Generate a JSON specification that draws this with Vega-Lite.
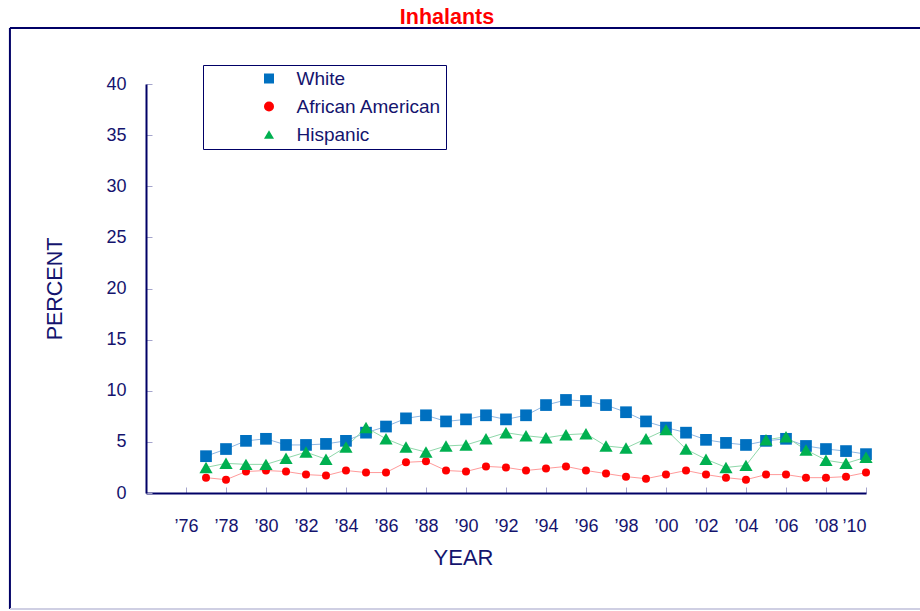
{
  "$schema": "https://vega.github.io/schema/vega-lite/v6.json",
  "width": 720,
  "height": 409,
  "autosize": {"type": "none"},
  "padding": {"left": 146, "top": 84, "right": 54, "bottom": 118},
  "background": "white",
  "config": {"view": {"stroke": null}, "font": "Liberation Sans"},
  "title": {"text": "Inhalants", "color": "#ff0000", "fontSize": 21.5, "fontWeight": "bold", "font": "Liberation Sans", "anchor": "middle", "frame": "group", "dx": -59, "offset": -2},
  "data": {"values": [
    {"year": "1977", "group": "White", "value": 3.6}, {"year": "1978", "group": "White", "value": 4.3}, {"year": "1979", "group": "White", "value": 5.1}, {"year": "1980", "group": "White", "value": 5.3}, {"year": "1981", "group": "White", "value": 4.7}, {"year": "1982", "group": "White", "value": 4.7}, {"year": "1983", "group": "White", "value": 4.8}, {"year": "1984", "group": "White", "value": 5.1}, {"year": "1985", "group": "White", "value": 5.9}, {"year": "1986", "group": "White", "value": 6.5}, {"year": "1987", "group": "White", "value": 7.3}, {"year": "1988", "group": "White", "value": 7.6}, {"year": "1989", "group": "White", "value": 7.0}, {"year": "1990", "group": "White", "value": 7.2}, {"year": "1991", "group": "White", "value": 7.6}, {"year": "1992", "group": "White", "value": 7.2}, {"year": "1993", "group": "White", "value": 7.6}, {"year": "1994", "group": "White", "value": 8.6}, {"year": "1995", "group": "White", "value": 9.1}, {"year": "1996", "group": "White", "value": 9.0}, {"year": "1997", "group": "White", "value": 8.6}, {"year": "1998", "group": "White", "value": 7.9}, {"year": "1999", "group": "White", "value": 7.0}, {"year": "2000", "group": "White", "value": 6.4}, {"year": "2001", "group": "White", "value": 5.9}, {"year": "2002", "group": "White", "value": 5.2}, {"year": "2003", "group": "White", "value": 4.9}, {"year": "2004", "group": "White", "value": 4.7}, {"year": "2005", "group": "White", "value": 5.1}, {"year": "2006", "group": "White", "value": 5.3}, {"year": "2007", "group": "White", "value": 4.6}, {"year": "2008", "group": "White", "value": 4.3}, {"year": "2009", "group": "White", "value": 4.1}, {"year": "2010", "group": "White", "value": 3.8},
    {"year": "1977", "group": "African American", "value": 1.5}, {"year": "1978", "group": "African American", "value": 1.3}, {"year": "1979", "group": "African American", "value": 2.1}, {"year": "1980", "group": "African American", "value": 2.2}, {"year": "1981", "group": "African American", "value": 2.1}, {"year": "1982", "group": "African American", "value": 1.8}, {"year": "1983", "group": "African American", "value": 1.7}, {"year": "1984", "group": "African American", "value": 2.2}, {"year": "1985", "group": "African American", "value": 2.0}, {"year": "1986", "group": "African American", "value": 2.0}, {"year": "1987", "group": "African American", "value": 3.0}, {"year": "1988", "group": "African American", "value": 3.1}, {"year": "1989", "group": "African American", "value": 2.2}, {"year": "1990", "group": "African American", "value": 2.1}, {"year": "1991", "group": "African American", "value": 2.6}, {"year": "1992", "group": "African American", "value": 2.5}, {"year": "1993", "group": "African American", "value": 2.2}, {"year": "1994", "group": "African American", "value": 2.4}, {"year": "1995", "group": "African American", "value": 2.6}, {"year": "1996", "group": "African American", "value": 2.2}, {"year": "1997", "group": "African American", "value": 1.9}, {"year": "1998", "group": "African American", "value": 1.6}, {"year": "1999", "group": "African American", "value": 1.4}, {"year": "2000", "group": "African American", "value": 1.8}, {"year": "2001", "group": "African American", "value": 2.2}, {"year": "2002", "group": "African American", "value": 1.8}, {"year": "2003", "group": "African American", "value": 1.5}, {"year": "2004", "group": "African American", "value": 1.3}, {"year": "2005", "group": "African American", "value": 1.8}, {"year": "2006", "group": "African American", "value": 1.8}, {"year": "2007", "group": "African American", "value": 1.5}, {"year": "2008", "group": "African American", "value": 1.5}, {"year": "2009", "group": "African American", "value": 1.6}, {"year": "2010", "group": "African American", "value": 2.0},
    {"year": "1977", "group": "Hispanic", "value": 2.5}, {"year": "1978", "group": "Hispanic", "value": 2.9}, {"year": "1979", "group": "Hispanic", "value": 2.8}, {"year": "1980", "group": "Hispanic", "value": 2.8}, {"year": "1981", "group": "Hispanic", "value": 3.4}, {"year": "1982", "group": "Hispanic", "value": 4.0}, {"year": "1983", "group": "Hispanic", "value": 3.3}, {"year": "1984", "group": "Hispanic", "value": 4.5}, {"year": "1985", "group": "Hispanic", "value": 6.4}, {"year": "1986", "group": "Hispanic", "value": 5.3}, {"year": "1987", "group": "Hispanic", "value": 4.5}, {"year": "1988", "group": "Hispanic", "value": 4.0}, {"year": "1989", "group": "Hispanic", "value": 4.6}, {"year": "1990", "group": "Hispanic", "value": 4.7}, {"year": "1991", "group": "Hispanic", "value": 5.3}, {"year": "1992", "group": "Hispanic", "value": 5.9}, {"year": "1993", "group": "Hispanic", "value": 5.6}, {"year": "1994", "group": "Hispanic", "value": 5.4}, {"year": "1995", "group": "Hispanic", "value": 5.7}, {"year": "1996", "group": "Hispanic", "value": 5.8}, {"year": "1997", "group": "Hispanic", "value": 4.6}, {"year": "1998", "group": "Hispanic", "value": 4.4}, {"year": "1999", "group": "Hispanic", "value": 5.3}, {"year": "2000", "group": "Hispanic", "value": 6.2}, {"year": "2001", "group": "Hispanic", "value": 4.3}, {"year": "2002", "group": "Hispanic", "value": 3.3}, {"year": "2003", "group": "Hispanic", "value": 2.5}, {"year": "2004", "group": "Hispanic", "value": 2.7}, {"year": "2005", "group": "Hispanic", "value": 5.2}, {"year": "2006", "group": "Hispanic", "value": 5.5}, {"year": "2007", "group": "Hispanic", "value": 4.2}, {"year": "2008", "group": "Hispanic", "value": 3.2}, {"year": "2009", "group": "Hispanic", "value": 2.9}, {"year": "2010", "group": "Hispanic", "value": 3.5}
  ]},
  "layer": [
    {
      "data": {"values": [{}]},
      "mark": {"type": "rule", "color": "#000066", "strokeWidth": 2},
      "encoding": {
        "x": {"datum": {"year": 1967, "month": 3, "date": 14, "utc": true}, "type": "temporal", "scale": {"type": "utc", "domain": [{"year": 1974, "utc": true}, {"year": 2010, "utc": true}], "nice": false}},
        "x2": {"datum": {"year": 2013, "utc": true}},
        "y": {"datum": 45.48, "type": "quantitative", "scale": {"domain": [0, 40], "nice": false, "zero": false}}
      }
    },
    {
      "data": {"values": [{}]},
      "mark": {"type": "rule", "color": "#000066", "strokeWidth": 2},
      "encoding": {
        "x": {"datum": {"year": 1967, "month": 3, "date": 14, "utc": true}, "type": "temporal", "scale": {"type": "utc", "domain": [{"year": 1974, "utc": true}, {"year": 2010, "utc": true}], "nice": false}},
        "y": {"datum": 45.48, "type": "quantitative", "scale": {"domain": [0, 40], "nice": false, "zero": false}},
        "y2": {"datum": -11.35}
      }
    },
    {
      "data": {"values": [{}]},
      "mark": {"type": "rule", "color": "#cfcfe3", "strokeWidth": 2},
      "encoding": {
        "x": {"datum": {"year": 1967, "month": 3, "date": 14, "utc": true}, "type": "temporal", "scale": {"type": "utc", "domain": [{"year": 1974, "utc": true}, {"year": 2010, "utc": true}], "nice": false}},
        "x2": {"datum": {"year": 2013, "utc": true}},
        "y": {"datum": -11.35, "type": "quantitative", "scale": {"domain": [0, 40], "nice": false, "zero": false}}
      }
    },
    {
      "mark": {"type": "line", "strokeWidth": 1},
      "encoding": {
        "x": {"field": "year", "type": "temporal", "scale": {"type": "utc", "domain": [{"year": 1974, "utc": true}, {"year": 2010, "utc": true}], "nice": false},
          "axis": {"values": [{"year": 1976, "utc": true}, {"year": 1977, "utc": true}, {"year": 1978, "utc": true}, {"year": 1979, "utc": true}, {"year": 1980, "utc": true}, {"year": 1981, "utc": true}, {"year": 1982, "utc": true}, {"year": 1983, "utc": true}, {"year": 1984, "utc": true}, {"year": 1985, "utc": true}, {"year": 1986, "utc": true}, {"year": 1987, "utc": true}, {"year": 1988, "utc": true}, {"year": 1989, "utc": true}, {"year": 1990, "utc": true}, {"year": 1991, "utc": true}, {"year": 1992, "utc": true}, {"year": 1993, "utc": true}, {"year": 1994, "utc": true}, {"year": 1995, "utc": true}, {"year": 1996, "utc": true}, {"year": 1997, "utc": true}, {"year": 1998, "utc": true}, {"year": 1999, "utc": true}, {"year": 2000, "utc": true}, {"year": 2001, "utc": true}, {"year": 2002, "utc": true}, {"year": 2003, "utc": true}, {"year": 2004, "utc": true}, {"year": 2005, "utc": true}, {"year": 2006, "utc": true}, {"year": 2007, "utc": true}, {"year": 2008, "utc": true}, {"year": 2009, "utc": true}, {"year": 2010, "utc": true}],
            "format": "’%y", "labelOverlap": "parity", "grid": false,
            "tickSize": -6, "tickColor": "#a4a4cc", "tickWidth": 1,
            "domainColor": "#000066", "domainWidth": 2,
            "labelFontSize": 18, "labelColor": "#14146e", "labelFont": "Liberation Sans", "labelPadding": 30,
            "title": "YEAR", "titleFontSize": 22, "titleFontWeight": "normal", "titleColor": "#14146e", "titleFont": "Liberation Sans",
            "titleX": 317, "titleY": 71, "titleBaseline": "alphabetic", "titleAlign": "center"}},
        "y": {"field": "value", "type": "quantitative", "scale": {"domain": [0, 40], "nice": false, "zero": false},
          "axis": {"values": [0, 5, 10, 15, 20, 25, 30, 35, 40], "grid": false,
            "tickSize": -6, "tickColor": "#a4a4cc", "tickWidth": 1,
            "domainColor": "#000066", "domainWidth": 2,
            "labelFontSize": 18, "labelColor": "#14146e", "labelFont": "Liberation Sans", "labelPadding": 26,
            "title": "PERCENT", "titleFontSize": 21.5, "titleFontWeight": "normal", "titleColor": "#14146e", "titleFont": "Liberation Sans",
            "titleX": -84.5, "titleY": 204.5, "titleAngle": -90, "titleBaseline": "alphabetic", "titleAlign": "center"}},
        "stroke": {"field": "group", "type": "nominal", "scale": {"domain": ["Hispanic", "African American", "White"], "range": ["#8fd8aa", "#ff9a9a", "#8db6e2"]}, "legend": null}
      }
    },
    {
      "mark": {"type": "point", "filled": true, "opacity": 1, "strokeWidth": 0},
      "encoding": {
        "x": {"field": "year", "type": "temporal", "scale": {"type": "utc", "domain": [{"year": 1974, "utc": true}, {"year": 2010, "utc": true}], "nice": false}},
        "y": {"field": "value", "type": "quantitative", "scale": {"domain": [0, 40], "nice": false, "zero": false}},
        "size": {"field": "group", "type": "nominal", "scale": {"type": "ordinal", "domain": ["African American", "Hispanic", "White"], "range": [64, 175, 137]}, "legend": null},
        "shape": {"field": "group", "type": "nominal", "scale": {"domain": ["White", "African American", "Hispanic"], "range": ["square", "circle", "triangle-up"]},
          "legend": {"title": null, "orient": "none", "legendX": 57, "legendY": -19}},
        "color": {"field": "group", "type": "nominal", "scale": {"domain": ["White", "African American", "Hispanic"], "range": ["#0070c0", "#ff0000", "#00b050"]},
          "legend": {"title": null, "orient": "none", "legendX": 57, "legendY": -19,
            "padding": 4, "strokeColor": "#000066", "fillColor": "white",
            "symbolSize": 100, "symbolOffset": 52.5, "labelOffset": 18,
            "labelFont": "Liberation Sans", "labelFontSize": 19, "labelColor": "#14146e", "rowPadding": 8, "labelLimit": 400}}
      }
    }
  ]
}
